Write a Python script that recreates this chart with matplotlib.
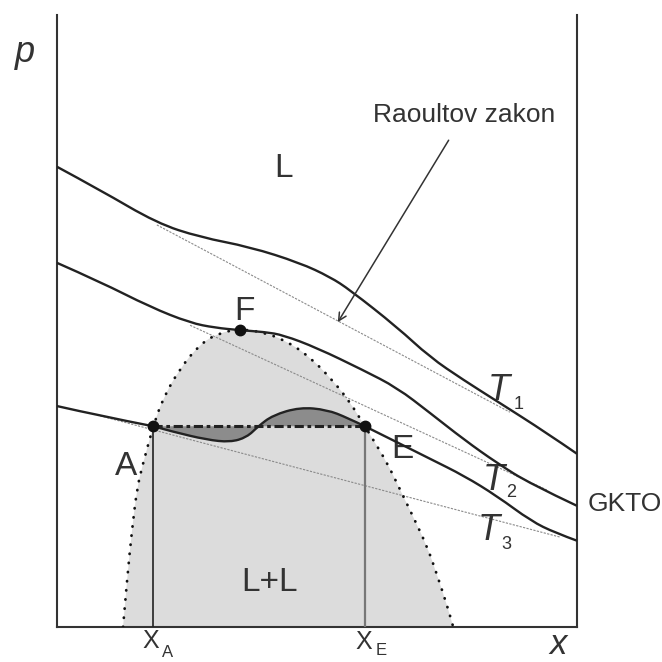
import matplotlib.pyplot as plt
import numpy as np
from matplotlib.path import Path
from matplotlib.patches import PathPatch

plt.rcParams["font.family"] = ["Liberation Sans", "DejaVu Sans"]

# composition x (0..1) and pressure p (0..1)
t1_x = [0.0, 0.083, 0.192, 0.275, 0.371, 0.467, 0.525, 0.563, 0.654,
        0.717, 0.781, 0.846, 0.942, 1.0]
t1_p = [0.752, 0.714, 0.660, 0.637, 0.621, 0.595, 0.572, 0.551, 0.490,
        0.441, 0.404, 0.369, 0.317, 0.283]

t2_x = [0.0, 0.083, 0.179, 0.256, 0.304, 0.352, 0.400, 0.435, 0.500, 0.588,
        0.654, 0.717, 0.783, 0.846, 0.910, 1.0]
t2_p = [0.595, 0.564, 0.523, 0.497, 0.489, 0.485, 0.482, 0.477, 0.456, 0.420,
        0.391, 0.350, 0.306, 0.268, 0.234, 0.198]

# T3 in three parts: left of A, the loop A..E, right of E
t3a_x = [0.0, 0.083, 0.185]
t3a_p = [0.361, 0.345, 0.328]
loop_x = [0.185, 0.223, 0.288, 0.333, 0.365, 0.387, 0.415, 0.467, 0.519,
          0.558, 0.592]
loop_p = [0.328, 0.319, 0.306, 0.302, 0.310, 0.328, 0.346, 0.359, 0.355,
          0.342, 0.328]
t3b_x = [0.592, 0.656, 0.717, 0.783, 0.846, 0.912, 0.958, 1.0]
t3b_p = [0.328, 0.301, 0.275, 0.247, 0.214, 0.173, 0.154, 0.141]

# Raoult's law straight lines (start, end)
raoult_x = [(0.192, 0.871), (0.256, 0.942), (0.083, 0.967)]
raoult_p = [(0.657, 0.351), (0.493, 0.224), (0.345, 0.147)]

# binodal (dotted boundary of the two-liquid region)
bin_x = [0.127, 0.135, 0.144, 0.154, 0.165, 0.185, 0.204, 0.237, 0.275, 0.310,
         0.352, 0.394, 0.438, 0.487, 0.531, 0.563, 0.592, 0.608, 0.635, 0.660,
         0.685, 0.712, 0.731, 0.754, 0.762]
bin_p = [0.0, 0.080, 0.157, 0.227, 0.266, 0.328, 0.374, 0.423, 0.462, 0.480,
         0.487, 0.482, 0.469, 0.441, 0.402, 0.368, 0.328, 0.306, 0.268, 0.224,
         0.180, 0.131, 0.085, 0.025, 0.0]

x_A, x_E, p_tie = 0.185, 0.592, 0.328
x_F, p_F = 0.352, 0.485

ink = "#222222"
txt = "#333333"


def smooth_path(xs, ps, close=False):
    """Quadratic-bezier path through the read points (drawing only)."""
    pts = np.column_stack([xs, ps])
    verts = [pts[0]]
    codes = [Path.MOVETO]
    if len(pts) == 2:
        verts.append(pts[1])
        codes.append(Path.LINETO)
    else:
        for i in range(1, len(pts) - 1):
            end = pts[-1] if i == len(pts) - 2 else (pts[i] + pts[i + 1]) / 2
            verts += [pts[i], end]
            codes += [Path.CURVE3, Path.CURVE3]
    if close:
        verts.append(pts[0])
        codes.append(Path.CLOSEPOLY)
    return Path(verts, codes)


def draw_curve(ax, xs, ps, **kw):
    ax.add_patch(PathPatch(smooth_path(xs, ps), fill=False, **kw))


fig = plt.figure(figsize=(6.62, 6.62), dpi=100)
ax = fig.add_axes([57 / 662, 35 / 662, 520 / 662, 612 / 662])
ax.set_xlim(0, 1)
ax.set_ylim(0, 1)
ax.set_xticks([])
ax.set_yticks([])
ax.spines["top"].set_visible(False)
for s in ("left", "right", "bottom"):
    ax.spines[s].set_linewidth(1.5)
    ax.spines[s].set_color("#333333")

# two-liquid region
ax.add_patch(PathPatch(smooth_path(bin_x, bin_p, close=True),
                       facecolor="#dcdcdc", lw=0, zorder=1))
draw_curve(ax, bin_x, bin_p, edgecolor="#111111", lw=2.0,
           linestyle=(0, (0.1, 3.2)), capstyle="round", zorder=4)

# van der Waals loop shading (between loop and tie line)
ax.add_patch(PathPatch(smooth_path(loop_x, loop_p, close=True),
                       facecolor="#8c8c8c", lw=0, zorder=2))

for xs, ps in zip(raoult_x, raoult_p):
    ax.plot(xs, ps, color="#8a8a8a", lw=0.8, linestyle=(0, (2, 1.2)), zorder=3)

for xs, ps in ((t1_x, t1_p), (t2_x, t2_p), (t3a_x, t3a_p),
               (loop_x, loop_p), (t3b_x, t3b_p)):
    draw_curve(ax, xs, ps, edgecolor=ink, lw=1.7, joinstyle="round",
               zorder=5)

# tie line and verticals
ax.plot([x_A, x_E], [p_tie, p_tie], color=ink, lw=2.2,
        linestyle=(0, (3, 1.2, 1.2, 1.2)), zorder=6)
ax.plot([x_A, x_A], [0, p_tie], color=ink, lw=1.2, zorder=5)
ax.plot([x_E, x_E], [0, p_tie], color="#777777", lw=1.6, zorder=5)

ax.plot([x_A, x_E, x_F], [p_tie, p_tie, p_F], "o", color="#111111",
        ms=7.5, zorder=7)

# Raoult annotation
ax.annotate("Raoultov zakon", xy=(0.540, 0.498), xytext=(0.783, 0.837),
            ha="center", va="center", fontsize=19, color=txt,
            arrowprops=dict(arrowstyle="->", color="#333333", lw=1.1,
                            shrinkA=9, shrinkB=0, mutation_scale=14),
            annotation_clip=False, zorder=8)

big = dict(ha="center", va="center", color=txt, fontsize=24)
ax.text(0.435, 0.750, "L", **big)
ax.text(0.360, 0.516, "F", **big)
ax.text(0.133, 0.263, "A", **big)
ax.text(0.665, 0.290, "E", **big)
ax.text(0.408, 0.072, "L+L", **big)

ax.text(1.021, 0.201, "GKTO", ha="left", va="center", fontsize=19, color=txt,
        clip_on=False)

for lbl, (tx, tp), (sx, sp) in (("1", (0.850, 0.387), (0.887, 0.364)),
                                ("2", (0.840, 0.239), (0.873, 0.219)),
                                ("3", (0.831, 0.157), (0.864, 0.135))):
    ax.text(tx, tp, "T", ha="center", va="center", fontsize=26,
            style="italic", color=txt)
    ax.text(sx, sp, lbl, ha="center", va="center", fontsize=13, color=txt)

for sub, (tx, tp), (sx, sp) in (("A", (0.181, -0.023), (0.212, -0.041)),
                                ("E", (0.590, -0.025), (0.623, -0.039))):
    ax.text(tx, tp, "X", ha="center", va="center", fontsize=18, color=txt,
            clip_on=False)
    ax.text(sx, sp, sub, ha="center", va="center", fontsize=12, color=txt,
            clip_on=False)

ax.text(-0.062, 0.938, "p", ha="center", va="center", fontsize=26,
        style="italic", color=txt, clip_on=False)
ax.text(0.963, -0.0555, "x", ha="center", va="bottom", fontsize=25,
        style="italic", color=txt, clip_on=False)

fig.savefig("out.png", dpi=100)
